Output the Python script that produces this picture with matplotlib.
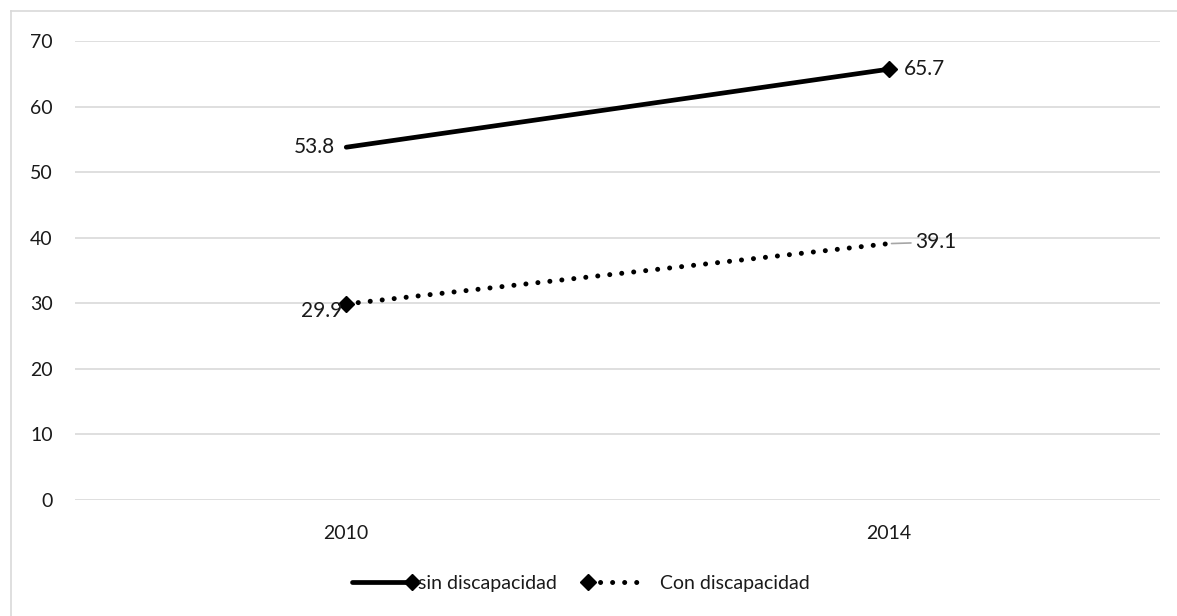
import matplotlib
matplotlib.use("Agg")
import matplotlib.pyplot as plt
from matplotlib.lines import Line2D
from matplotlib.legend_handler import HandlerBase

# ---- data ----
years = ["2010", "2014"]
sin_disc = [53.8, 65.7]
con_disc = [29.9, 39.1]
series_names = ["sin discapacidad", "Con discapacidad"]
y_ticks = [0, 10, 20, 30, 40, 50, 60, 70]

plt.rcParams['font.family'] = ['Lato', 'DejaVu Sans']

W, H = 1177, 616
fig = plt.figure(figsize=(W / 100, H / 100), dpi=100)
ax = fig.add_axes([75 / W, 1 - 500 / H, (1160 - 75) / W, (500 - 41) / H])

x = list(range(len(years)))
DOT = (0, (0.01, 2.4))
TXT = '#1a1a1a'

ax.plot(x, sin_disc, color='black', lw=3.4, solid_capstyle='round',
        marker='D', ms=8, markevery=[1], zorder=3)
ax.plot(x, con_disc, color='black', lw=3.6, linestyle=DOT, dash_capstyle='round',
        marker='D', ms=8, markevery=[0], zorder=3)

ax.set_xlim(-0.5, 1.5)
ax.set_ylim(0, 70)
ax.set_yticks(y_ticks)
ax.set_xticks(x)
ax.set_xticklabels(years)
ax.tick_params(length=0, labelsize=14, colors=TXT)
ax.tick_params(axis='y', pad=16)
ax.tick_params(axis='x', pad=18)
for s in ax.spines.values():
    s.set_visible(False)
ax.grid(axis='y', color='#d9d9d9', lw=1.2)
ax.set_axisbelow(True)

lab_kw = dict(textcoords='offset points', fontsize=15, color=TXT, va='center')
ax.annotate(f"{sin_disc[0]:.1f}", (x[0], sin_disc[0]), xytext=(-8, 0), ha='right', **lab_kw)
ax.annotate(f"{sin_disc[1]:.1f}", (x[1], sin_disc[1]), xytext=(11, 0), ha='left', **lab_kw)
ax.annotate(f"{con_disc[0]:.1f}", (x[0], con_disc[0]), xytext=(-3, -5), ha='right', **lab_kw)
ax.annotate(f"{con_disc[1]:.1f}", (x[1], con_disc[1]), xytext=(19, 1), ha='left',
            arrowprops=dict(arrowstyle='-', color='#a6a6a6', lw=1.2, shrinkA=1, shrinkB=2),
            **lab_kw)


class EndMarkerHandler(HandlerBase):
    def __init__(self, where, ls, lw):
        super().__init__()
        self.where, self.ls, self.lw = where, ls, lw

    def create_artists(self, legend, orig, xdescent, ydescent, width, height, fontsize, trans):
        y = height / 2 - ydescent
        x0, x1 = -xdescent, width - xdescent
        line = Line2D([x0, x1], [y, y], color='black', lw=self.lw, linestyle=self.ls,
                      dash_capstyle='round', solid_capstyle='round')
        mx = x1 if self.where == 'end' else x0
        m = Line2D([mx], [y], marker='D', ms=8, color='black', linestyle='none')
        line.set_transform(trans)
        m.set_transform(trans)
        return [line, m]


h1 = Line2D([], [], color='black')
h2 = Line2D([], [], color='black')
leg = fig.legend([h1, h2], series_names, loc='center', bbox_to_anchor=(578 / W, 1 - 583 / H),
                 ncol=2, frameon=False, fontsize=14, handlelength=3.1, handletextpad=0.3,
                 columnspacing=1.6,
                 handler_map={h1: EndMarkerHandler('end', '-', 3.4),
                              h2: EndMarkerHandler('start', DOT, 3.6)})
leg.texts[1].set_position((6, 0))
for t in leg.texts:
    t.set_color(TXT)

# outer chart border (top and left visible)
fig.add_artist(Line2D([11 / W, 1], [1 - 11 / H, 1 - 11 / H], transform=fig.transFigure,
                      color='#d9d9d9', lw=1.2))
fig.add_artist(Line2D([11 / W, 11 / W], [1 - 11 / H, 0], transform=fig.transFigure,
                      color='#d9d9d9', lw=1.2))

fig.savefig("out.png", dpi=100)
